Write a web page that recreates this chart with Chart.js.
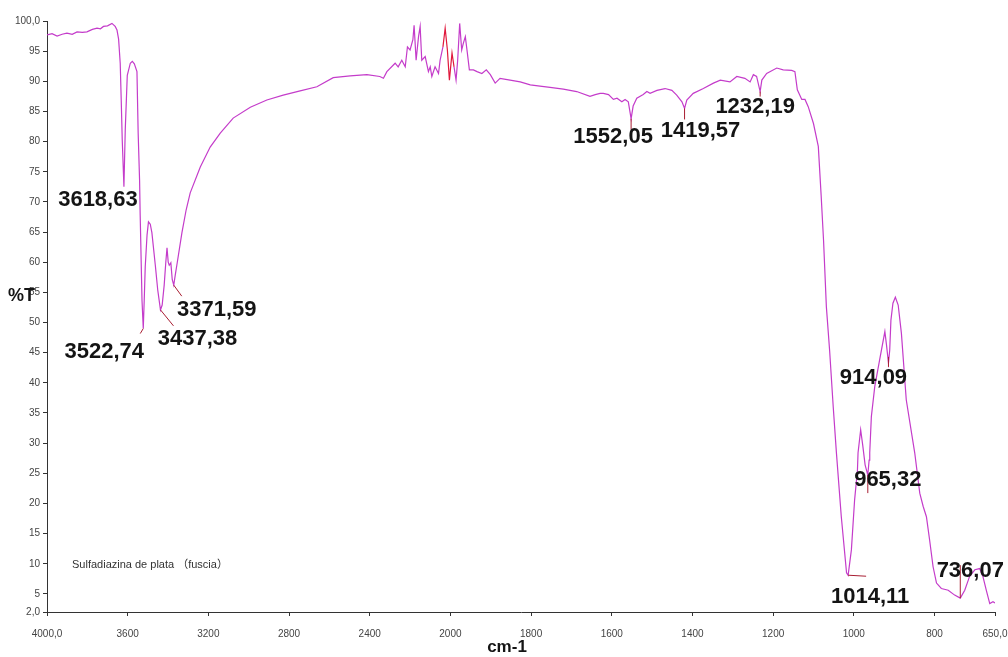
<!DOCTYPE html>
<html>
<head>
<meta charset="utf-8">
<script src="https://cdn.jsdelivr.net/npm/chart.js@4.4.0/dist/chart.umd.min.js"></script>
<style>
  html, body { margin: 0; padding: 0; background: #fff; }
  #wrap { width: 1008px; height: 657px; }
</style>
</head>
<body>
<div id="wrap"><canvas id="irChart"></canvas></div>
<script>
// =========================
//  FTIR spectrum – Sulfadiazina de plata
//  x: wavenumber (cm-1), y: %T
// =========================

// ----- Spectrum -----
const waveNumbers = [
  4000, 3975, 3950, 3925, 3901, 3875, 3851, 3825, 3802, 3775, 3752, 3735, 3720, 3700,
  3678, 3662, 3653, 3645, 3637, 3632, 3627, 3618.63, 3612, 3602, 3587, 3577, 3567, 3554,
  3548, 3541, 3538, 3529, 3522.74, 3518, 3513, 3504, 3497, 3488, 3480, 3463, 3451,
  3437.38, 3429, 3419, 3411, 3405, 3399, 3394, 3386, 3379, 3371.59, 3364, 3354, 3331,
  3310, 3290, 3240, 3191, 3141, 3077, 2992, 2910, 2829, 2745, 2662, 2581, 2497, 2414,
  2350, 2332, 2315, 2274, 2259, 2241, 2224, 2213, 2200, 2186, 2180, 2170, 2158, 2150,
  2142, 2125, 2109, 2100, 2092, 2076, 2059, 2051, 2037, 2026, 2015, 2005, 1996, 1991,
  1986, 1982, 1977, 1972, 1968, 1963, 1958, 1953, 1943, 1934, 1922, 1911, 1901, 1889,
  1877, 1852, 1827, 1802, 1778, 1753, 1720, 1687, 1654, 1641, 1629, 1621, 1608, 1596,
  1587, 1575, 1567, 1559, 1552.05, 1547, 1538, 1522, 1513, 1505, 1488, 1468, 1451, 1439,
  1426, 1419.57, 1414, 1398, 1373, 1348, 1331, 1307, 1290, 1270, 1257, 1249, 1241,
  1232.19, 1228, 1216, 1191, 1175, 1154, 1146, 1140, 1129, 1121, 1113, 1100, 1088, 1081,
  1075, 1068, 1060, 1051, 1043, 1031, 1018, 1014.11, 1006, 998, 991, 989.5, 983, 978,
  972, 965.32, 962, 960.5, 956.5, 948, 936, 923, 919, 914.09, 911, 908, 903, 897, 890,
  882, 870, 849, 836.5, 828, 820, 812, 803.5, 795, 783, 766, 750, 736.07, 725, 713, 700,
  688, 680, 671.5, 663, 655, 650
];
const transmittance = [
  97.7, 97.9, 97.5, 97.8, 98.0, 97.8, 98.2, 98.1, 98.2, 98.6, 98.8, 98.7, 99.1, 99.2,
  99.6, 99.1, 98.5, 97.0, 93.0, 86.9, 80.3, 72.5, 82.0, 91.0, 93.0, 93.3, 92.9, 91.6,
  81.4, 73.6, 67.8, 53.7, 49.0, 53.7, 59.2, 64.5, 66.7, 66.3, 64.9, 59.5, 55.4,
  52.1, 52.9, 56.2, 60.0, 62.4, 60.0, 59.5, 59.9, 57.1, 56.2, 57.9, 60.0, 64.9,
  68.7, 71.5, 75.8, 79.1, 81.4, 83.9, 85.7, 86.9, 87.7, 88.4, 89.1, 90.6, 90.9, 91.1,
  90.8, 90.5, 91.6, 93.0, 92.4, 93.5, 92.4, 95.7, 95.2, 96.9, 99.3, 93.5, 97.4, 99.1,
  93.5, 94.1, 91.6, 92.4, 90.8, 92.4, 91.3, 93.5, 95.7, 98.8, 95.2, 90.2, 94.7, 92.4,
  90.2, 93.5, 99.6, 95.2, 96.3, 97.4, 94.7, 91.9, 91.9, 91.6, 91.3, 91.9, 91.1, 89.7,
  90.5, 90.2, 89.9, 89.4, 89.2, 89.0, 88.7, 88.3, 87.5, 87.8, 88.0, 88.0, 87.8, 87.0,
  87.2, 86.6, 87.0, 86.6, 83.8, 85.9, 87.2, 87.8, 88.3, 88.0, 88.5, 88.8, 88.5, 87.7,
  86.6, 85.5, 86.9, 88.0, 88.8, 89.7, 90.2, 89.9, 90.8, 90.5, 89.9, 91.1, 90.8,
  88.3, 90.2, 91.3, 92.2, 91.9, 91.8, 91.6, 88.6, 87.0, 87.0, 85.8, 83.0, 79.2, 71.1,
  63.6, 52.6, 45.4, 36.0, 28.3, 17.8, 8.5, 8.1, 12.3, 20.6, 25.5, 28.4, 32.2, 29.7,
  26.4, 24.7, 27.2, 28.4, 34.4, 39.4, 43.8, 48.5, 46.3, 43.3, 45.4, 50.4, 53.2, 54.2, 52.9,
  48.2, 37.2, 28.4, 21.7, 19.5, 17.8, 13.9, 9.5, 6.8, 5.9, 5.6, 4.8, 4.3, 5.6, 7.9, 9.0,
  9.2, 7.9, 5.6, 3.4, 3.7, 3.5
];

// ----- Axis ticks -----
const xTicks = [4000, 3600, 3200, 2800, 2400, 2000, 1800, 1600, 1400, 1200, 1000, 800, 650];
const xTickLabels = ['4000,0', '3600', '3200', '2800', '2400', '2000', '1800', '1600', '1400', '1200', '1000', '800', '650,0'];
const yTicks = [2, 5, 10, 15, 20, 25, 30, 35, 40, 45, 50, 55, 60, 65, 70, 75, 80, 85, 90, 95, 100];
const yTickLabels = ['2,0', '5', '10', '15', '20', '25', '30', '35', '40', '45', '50', '55', '60', '65', '70', '75', '80', '85', '90', '95', '100,0'];

// ----- Marked peaks -----
const peakWn = [3618.63, 3522.74, 3437.38, 3371.59, 1552.05, 1419.57, 1232.19, 1014.11, 965.32, 914.09, 736.07];
const peakT = [72.5, 49.0, 52.1, 56.2, 83.8, 85.5, 88.3, 8.1, 24.7, 43.3, 4.3];
const peakLabels = ['3618,63', '3522,74', '3437,38', '3371,59', '1552,05', '1419,57', '1232,19', '1014,11', '965,32', '914,09', '736,07'];

// ----- Texts -----
const sampleName = 'Sulfadiazina de plata （fuscia）';
const xTitle = 'cm-1';
const yTitle = '%T';

// ----- Label placement (pixel offsets from the peak point) -----
const labelOffset = [[-26, 13], [-39, 23], [37, 29], [43, 25], [-18, 18], [16, 22], [-5, 15], [22, 22], [20, 5], [-15, 15], [10, -27]];
const leaderOffset = [null, [0, 0, -3, 5], [0, 0, 13, 16], [0, 0, 8, 11], [0, 0, 0, 11], [0, 0, 0, 11], [0, 0, 0, 5], [0, 0, 18, 1], [0, 0, 0, 18], [0, -6, 0, 4], [0, 0, 0, -33]];

// ----- Split wavenumber axis: 4000–2000 normal, 2000–650 expanded ×2 -----
const X_MAX = 4000, X_BRK = 2000, X_MIN = 650;
const SPAN = (X_MAX - X_BRK) + 2 * (X_BRK - X_MIN);
function irFrac(v) {
  return v >= X_BRK ? (X_MAX - v) / SPAN : ((X_MAX - X_BRK) + 2 * (X_BRK - v)) / SPAN;
}
function irValue(f) {
  const d = f * SPAN;
  return d <= X_MAX - X_BRK ? X_MAX - d : X_BRK - (d - (X_MAX - X_BRK)) / 2;
}
class IRScale extends Chart.LinearScale {
  getPixelForValue(value) {
    if (value === null || isNaN(value)) return NaN;
    return this.getPixelForDecimal(irFrac(value));
  }
  getValueForPixel(pixel) {
    return irValue(this.getDecimalForPixel(pixel));
  }
}
IRScale.id = 'irscale';
IRScale.defaults = Chart.LinearScale.defaults;
Chart.register(IRScale);

// ----- Annotations (peak labels, titles) -----
const annotate = {
  id: 'annotate',
  afterDatasetsDraw(chart) {
    const { ctx, scales: { x, y } } = chart;
    ctx.save();

    ctx.strokeStyle = '#A81E32';
    ctx.lineWidth = 1;
    peakWn.forEach((wn, i) => {
      const l = leaderOffset[i];
      if (!l) return;
      const px = x.getPixelForValue(wn), py = y.getPixelForValue(peakT[i]);
      ctx.beginPath();
      ctx.moveTo(px + l[0], py + l[1]);
      ctx.lineTo(px + l[2], py + l[3]);
      ctx.stroke();
    });

    ctx.fillStyle = '#141414';
    ctx.font = 'bold 22px "Liberation Sans", Arial, sans-serif';
    ctx.textAlign = 'center';
    ctx.textBaseline = 'middle';
    peakLabels.forEach((t, i) => {
      const px = x.getPixelForValue(peakWn[i]), py = y.getPixelForValue(peakT[i]);
      ctx.fillText(t, px + labelOffset[i][0], py + labelOffset[i][1]);
    });

    // axis titles
    ctx.font = 'bold 18px "Liberation Sans", Arial, sans-serif';
    ctx.textAlign = 'left';
    ctx.fillText(yTitle, 8, 296);
    ctx.font = 'bold 17px "Liberation Sans", Arial, sans-serif';
    ctx.textAlign = 'center';
    ctx.fillText(xTitle, 507, 647);

    // sample name
    ctx.fillStyle = '#333';
    ctx.font = '11px "Liberation Sans", Arial, "Noto Sans CJK SC", sans-serif';
    ctx.textAlign = 'left';
    ctx.fillText(sampleName, 72, 565);

    ctx.restore();
  }
};

const tickFont = { family: '"Liberation Sans", Arial, sans-serif', size: 10 };

new Chart(document.getElementById('irChart'), {
  type: 'line',
  data: {
    datasets: [{
      data: waveNumbers.map((x, i) => ({ x, y: transmittance[i] })),
      borderColor: '#C43CCA',
      borderWidth: 1.2,
      pointRadius: 0,
      tension: 0,
      segment: {
        // overlapping red trace in the CO2 region
        borderColor: c => (c.p0.parsed.x <= 2040 && c.p1.parsed.x >= 1990) ? '#E0183C' : undefined
      }
    }]
  },
  options: {
    responsive: true,
    maintainAspectRatio: false,
    animation: false,
    layout: { padding: { top: 21, right: 13, left: 0, bottom: 0 } },
    plugins: { legend: { display: false }, tooltip: { enabled: false } },
    scales: {
      x: {
        type: 'irscale',
        min: X_MIN,
        max: X_MAX,
        afterBuildTicks: ax => { ax.ticks = xTicks.map(v => ({ value: v })); },
        afterFit: ax => { ax.height = 45; ax.paddingLeft = 0; ax.paddingRight = 0; },
        ticks: {
          autoSkip: false, maxRotation: 0, padding: 12, color: '#444', font: tickFont,
          callback: (v, i) => xTickLabels[i]
        },
        grid: { drawOnChartArea: false, tickLength: 4, color: '#333' },
        border: { color: '#333', width: 1 }
      },
      y: {
        min: 2,
        max: 100,
        afterBuildTicks: ax => { ax.ticks = yTicks.map(v => ({ value: v })); },
        afterFit: ax => { ax.width = 47; ax.paddingTop = 0; ax.paddingBottom = 0; },
        ticks: {
          autoSkip: false, padding: 3, color: '#444', font: tickFont,
          callback: (v, i) => yTickLabels[i]
        },
        grid: { drawOnChartArea: false, tickLength: 4, color: '#333' },
        border: { color: '#333', width: 1 }
      }
    }
  },
  plugins: [annotate]
});
</script>
</body>
</html>
